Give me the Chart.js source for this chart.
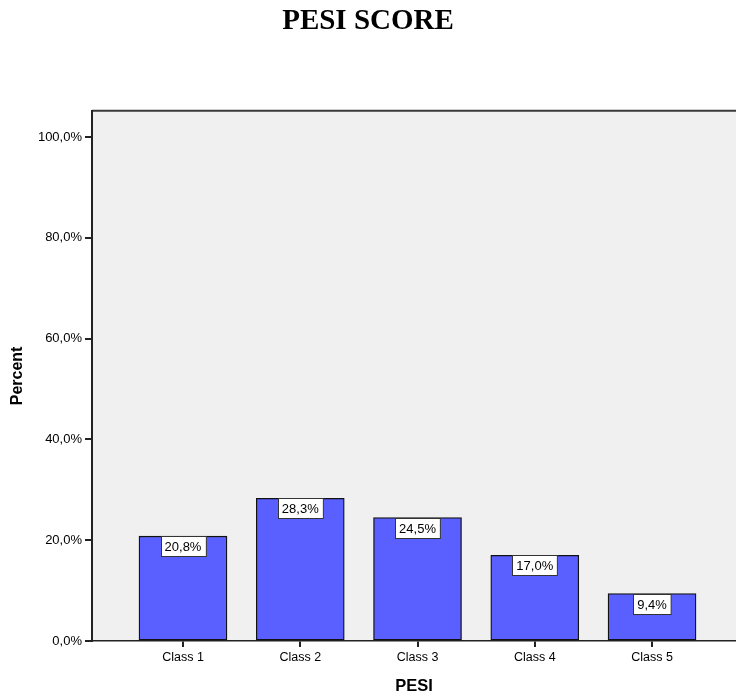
<!DOCTYPE html>
<html>
<head>
<meta charset="utf-8">
<script src="https://cdn.jsdelivr.net/npm/chart.js@4/dist/chart.umd.min.js"></script>
<style>
html,body{margin:0;padding:0;background:#fff;overflow:hidden;}
#wrap{width:736px;height:697px;position:relative;}
</style>
</head>
<body>
<div id="wrap"><canvas id="c" width="736" height="697"></canvas></div>
<script>
const categories = ["Class 1", "Class 2", "Class 3", "Class 4", "Class 5"];
const percentValues = [20.8, 28.3, 24.5, 17.0, 9.4];
const yTickValues = [0, 20, 40, 60, 80, 100];
const chartTitle = "PESI SCORE";
const xTitle = "PESI";
const yTitle = "Percent";

const fmt = v => v.toFixed(1).replace('.', ',') + '%';

const bgPlugin = {
  id: 'bgPlugin',
  beforeDraw(chart) {
    const {ctx, chartArea: a} = chart;
    ctx.save();
    ctx.fillStyle = '#f0f0f0';
    ctx.fillRect(a.left, a.top, a.right - a.left, a.bottom - a.top);
    ctx.strokeStyle = '#3a3a3a';
    ctx.lineWidth = 2;
    ctx.beginPath();
    ctx.moveTo(a.left, a.top);
    ctx.lineTo(a.right, a.top);
    ctx.stroke();
    ctx.restore();
  }
};

const labelPlugin = {
  id: 'labelPlugin',
  afterDatasetsDraw(chart) {
    const {ctx} = chart;
    const meta = chart.getDatasetMeta(0);
    ctx.save();
    ctx.font = '13px "Liberation Sans", Arial, sans-serif';
    ctx.textAlign = 'center';
    ctx.textBaseline = 'middle';
    meta.data.forEach((bar, i) => {
      const txt = fmt(percentValues[i]);
      const w = ctx.measureText(txt).width + 8;
      const h = 20;
      const x = Math.round(bar.x - w / 2) + 0.5;
      const y = Math.round(bar.y) + 0.5;
      ctx.fillStyle = '#ffffff';
      ctx.fillRect(x, y, w, h);
      ctx.strokeStyle = '#333333';
      ctx.lineWidth = 1;
      ctx.strokeRect(x, y, w, h);
      ctx.fillStyle = '#000000';
      ctx.fillText(txt, bar.x, y + h / 2 + 1);
    });
    ctx.restore();
  }
};

new Chart(document.getElementById('c'), {
  type: 'bar',
  data: {
    datasets: [{
      data: percentValues.map((v, i) => ({x: i, y: v})),
      backgroundColor: '#5a5fff',
      borderColor: '#111111',
      borderWidth: 1.3,
      borderSkipped: false,
      barThickness: 88
    }]
  },
  options: {
    responsive: false,
    animation: false,
    devicePixelRatio: 1,
    layout: {padding: 0},
    plugins: {
      legend: {display: false},
      tooltip: {enabled: false},
      title: {
        display: true,
        text: chartTitle,
        color: '#000',
        font: {family: '"Liberation Serif", "Times New Roman", serif', size: 29, weight: 'bold'},
        padding: {top: 4, bottom: 72}
      }
    },
    scales: {
      x: {
        type: 'linear',
        offset: false,
        min: -0.776,
        max: 4.716,
        afterFit(s) { s.height = 56; },
        afterBuildTicks(s) { s.ticks = categories.map((c, i) => ({value: i})); },
        ticks: {
          stepSize: 1,
          color: '#000',
          padding: 3,
          maxRotation: 0,
          font: {family: '"Liberation Sans", Arial, sans-serif', size: 12.5},
          callback: v => categories[v] !== undefined ? categories[v] : ''
        },
        grid: {display: true, offset: false, drawOnChartArea: false, drawTicks: true, tickLength: 6, color: '#222', lineWidth: 2},
        border: {display: true, color: '#222', width: 1.5},
        title: {
          display: true,
          text: xTitle,
          color: '#000',
          font: {family: '"Liberation Sans", Arial, sans-serif', size: 16.5, weight: 'bold'},
          padding: {top: 1, bottom: 1}
        }
      },
      y: {
        type: 'linear',
        min: 0,
        max: 105.2,
        afterFit(s) { s.width = 92; },
        afterBuildTicks(s) { s.ticks = yTickValues.map(v => ({value: v})); },
        ticks: {
          stepSize: 20,
          color: '#000',
          padding: 3,
          font: {family: '"Liberation Sans", Arial, sans-serif', size: 13},
          callback: v => fmt(v)
        },
        grid: {display: true, drawOnChartArea: false, drawTicks: true, tickLength: 7, color: '#222', lineWidth: 2},
        border: {display: true, color: '#222', width: 2},
        title: {
          display: true,
          text: yTitle,
          color: '#000',
          font: {family: '"Liberation Sans", Arial, sans-serif', size: 16, weight: 'bold'},
          padding: {top: 8, bottom: 0}
        }
      }
    }
  },
  plugins: [bgPlugin, labelPlugin]
});
</script>
</body>
</html>
